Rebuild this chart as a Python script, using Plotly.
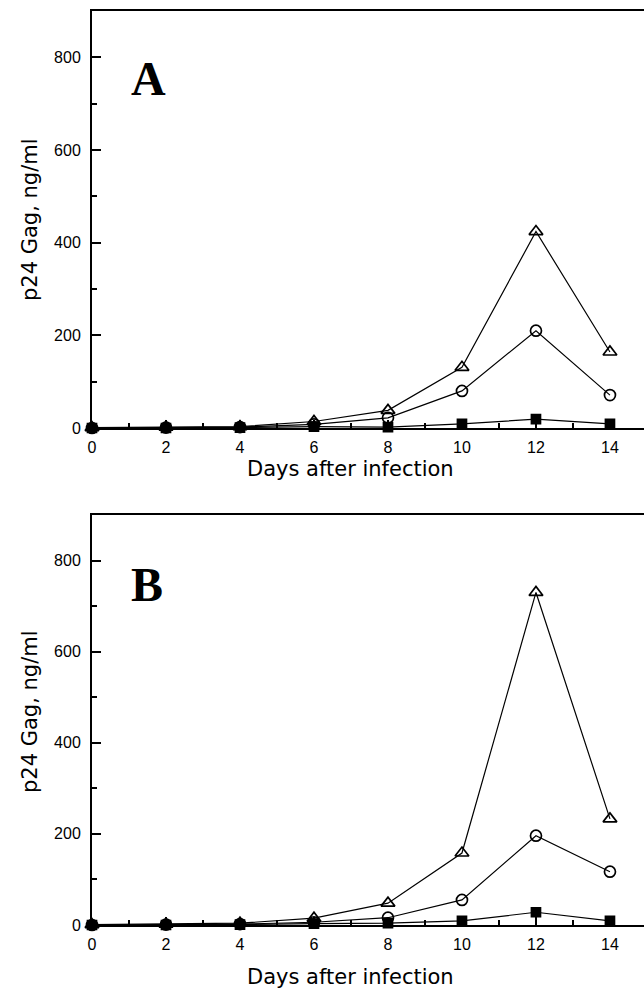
import plotly.graph_objects as go
from plotly.subplots import make_subplots

days = [0, 2, 4, 6, 8, 10, 12, 14]

# Panel A
a_triangle = [1, 2, 3, 14, 38, 131, 424, 164]
a_circle = [0, 1, 2, 8, 22, 80, 210, 71]
a_square = [0, 0, 1, 3, 2, 9, 19, 9]

# Panel B
b_triangle = [1, 2, 4, 15, 48, 158, 730, 233]
b_circle = [0, 1, 2, 6, 16, 55, 196, 117]
b_square = [0, 0, 1, 3, 4, 9, 28, 9]

y_ticks = [0, 200, 400, 600, 800]
x_ticks = [0, 2, 4, 6, 8, 10, 12, 14]
panel_labels = ["A", "B"]
x_title = "Days after infection"
y_title = "p24 Gag, ng/ml"

W, H = 644, 989
ML, MR, MT, MB = 92, 0, 11, 64
ph = H - MT - MB
pw = W - ML - MR

def dom(top_px, bot_px):
    return [(H - MB - bot_px) / ph, (H - MB - top_px) / ph]

fig = make_subplots(rows=2, cols=1)

series_style = [
    dict(symbol="triangle-up-open", size=12),
    dict(symbol="circle-open", size=11),
    dict(symbol="square", size=9),
]

for r, data in enumerate([(a_triangle, a_circle, a_square), (b_triangle, b_circle, b_square)], start=1):
    for vals, st in zip(data, series_style):
        fig.add_trace(go.Scatter(
            x=days, y=vals, mode="lines+markers",
            line=dict(color="black", width=1.2),
            marker=dict(symbol=st["symbol"], size=st["size"], color="black",
                        line=dict(color="black", width=1.7)),
            showlegend=False, cliponaxis=False,
        ), row=r, col=1)

tick_font = dict(family="Liberation Sans, Arial, sans-serif", size=16, color="black")
title_font = dict(family="DejaVu Sans, sans-serif", size=21, color="black")
axis_common = dict(showgrid=False, zeroline=False, showline=True, linecolor="black",
                   linewidth=2, ticks="inside", tickcolor="black", tickwidth=1.5,
                   tickfont=tick_font)

domains = [dom(11, 428), dom(515, 925)]
for i, d in enumerate(domains, start=1):
    fig.update_xaxes(range=[0, 14.92], tickvals=x_ticks, ticklen=8, mirror=True, ticklabelstandoff=4,
                     minor=dict(ticks="inside", dtick=1, ticklen=5, tickcolor="black", tickwidth=1.5),
                     row=i, col=1, **axis_common)
    fig.update_yaxes(range=[0, 900], tickvals=y_ticks, ticklen=9, domain=d, ticklabelstandoff=6,
                     minor=dict(ticks="inside", dtick=100, ticklen=5, tickcolor="black", tickwidth=1.5),
                     row=i, col=1, **axis_common)

annotations = []
label_pos = [(148, 78), (147, 584)]
xt_pos = [469, 977]
yt_pos = [220, 712]
for i in range(2):
    lx, ly = label_pos[i]
    annotations.append(dict(text="<b>%s</b>" % panel_labels[i], xref="paper", yref="paper",
                            x=(lx - ML) / pw, y=(H - MB - ly) / ph,
                            showarrow=False, xanchor="center", yanchor="middle",
                            font=dict(family="Liberation Serif, Times New Roman, serif", size=48, color="black")))
    annotations.append(dict(text=x_title, xref="paper", yref="paper",
                            x=(350 - ML) / pw, y=(H - MB - xt_pos[i]) / ph,
                            showarrow=False, xanchor="center", yanchor="middle",
                            font=title_font))
    annotations.append(dict(text=y_title, xref="paper", yref="paper",
                            x=(30 - ML) / pw, y=(H - MB - yt_pos[i]) / ph,
                            showarrow=False, xanchor="center", yanchor="middle", textangle=-90,
                            font=title_font))

fig.update_layout(width=W, height=H, margin=dict(l=ML, r=MR, t=MT, b=MB),
                  plot_bgcolor="white", paper_bgcolor="white",
                  annotations=annotations, font=tick_font)

fig.write_html("out.html", config={"displayModeBar": False},
               post_script="document.body.style.margin='0';document.body.style.overflow='hidden';")
